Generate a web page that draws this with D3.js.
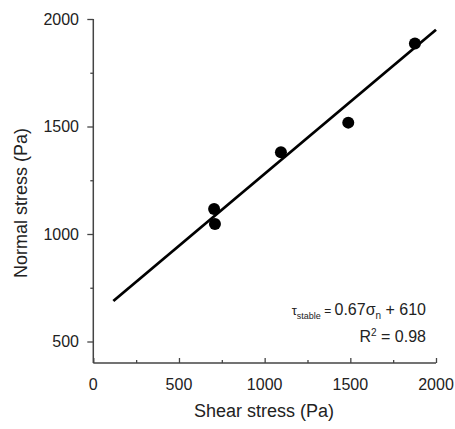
<!DOCTYPE html>
<html>
<head>
<meta charset="utf-8">
<script src="https://cdn.jsdelivr.net/npm/d3@7"></script>
<style>
  html, body { margin: 0; padding: 0; background: #fff; }
  svg { display: block; font-family: "Liberation Sans", Arial, sans-serif; }
</style>
</head>
<body>
<svg id="chart" width="455" height="429"></svg>
<script>
// Measured points: shear stress vs normal stress (Pa)
const shearStress  = [705, 710, 1095, 1488, 1877];
const normalStress = [1116, 1046, 1380, 1518, 1886];

// Linear fit: tau = 0.67 * sigma + 610
const fitSlope = 0.67;
const fitIntercept = 610;
const fitRange = [117, 2000];

const xTicks = [0, 500, 1000, 1500, 2000];
const xMinorTicks = [250, 750, 1250, 1750];
const yTicks = [500, 1000, 1500, 2000];
const yMinorTicks = [750, 1250, 1750];

const svg = d3.select("#chart");
const plotLeft = 93.3, plotRight = 436, plotTop = 19, plotBottom = 363;

const x = d3.scaleLinear().domain([0, 2000]).range([plotLeft, plotRight]);
const y = d3.scaleLinear().domain([400, 2000]).range([plotBottom, plotTop]);

const axisColor = "#444";

// X axis: ticks point inward (up)
const gx = svg.append("g").attr("transform", `translate(0,${plotBottom})`);
gx.call(d3.axisTop(x).tickValues(xTicks).tickSize(5).tickFormat(""));
gx.append("g").call(d3.axisTop(x).tickValues(xMinorTicks).tickSize(3).tickFormat(""));
gx.selectAll("path.domain").remove();
gx.selectAll("line").attr("stroke", axisColor).attr("stroke-width", 1.3);
svg.append("line")
  .attr("x1", plotLeft).attr("x2", plotRight).attr("y1", plotBottom).attr("y2", plotBottom)
  .attr("stroke", axisColor).attr("stroke-width", 1.5);
svg.append("g").selectAll("text").data(xTicks).join("text")
  .attr("x", d => x(d)).attr("y", 390)
  .attr("text-anchor", "middle").attr("font-size", 16).attr("fill", "#222")
  .text(d => d);

// Y axis: ticks point outward (left)
const gy = svg.append("g").attr("transform", `translate(${plotLeft},0)`);
gy.call(d3.axisLeft(y).tickValues(yTicks).tickSize(6).tickFormat(""));
gy.append("g").call(d3.axisLeft(y).tickValues(yMinorTicks).tickSize(3).tickFormat(""));
gy.selectAll("path.domain").remove();
gy.selectAll("line").attr("stroke", axisColor).attr("stroke-width", 1.3);
svg.append("line")
  .attr("x1", plotLeft).attr("x2", plotLeft).attr("y1", plotTop).attr("y2", plotBottom)
  .attr("stroke", axisColor).attr("stroke-width", 1.5);
svg.append("g").selectAll("text").data(yTicks).join("text")
  .attr("x", 79).attr("y", d => y(d) + 5.5)
  .attr("text-anchor", "end").attr("font-size", 16).attr("fill", "#222")
  .text(d => d);

// Axis titles
svg.append("text")
  .attr("x", 264).attr("y", 417)
  .attr("text-anchor", "middle").attr("font-size", 18).attr("fill", "#222")
  .text("Shear stress (Pa)");
svg.append("text")
  .attr("transform", "translate(27,203) rotate(-90)")
  .attr("text-anchor", "middle").attr("font-size", 18).attr("fill", "#222")
  .text("Normal stress (Pa)");

// Fitted line
const fitLine = d3.line().x(d => x(d)).y(d => y(fitSlope * d + fitIntercept));
svg.append("path")
  .datum(fitRange)
  .attr("d", fitLine)
  .attr("fill", "none").attr("stroke", "#000").attr("stroke-width", 2.8);

// Data points
svg.append("g").selectAll("circle")
  .data(shearStress.map((s, i) => [s, normalStress[i]]))
  .join("circle")
  .attr("cx", d => x(d[0])).attr("cy", d => y(d[1]))
  .attr("r", 6).attr("fill", "#000");

// Fit equation
const eq = svg.append("text")
  .attr("x", 426).attr("y", 315)
  .attr("text-anchor", "end").attr("font-size", 16).attr("fill", "#222");
eq.append("tspan").attr("font-size", 13).text("τ");
eq.append("tspan").attr("font-size", 9).attr("dy", 4).text("stable");
eq.append("tspan").attr("font-size", 12).attr("dy", -4).text(" = ");
eq.append("tspan").text("0.67σ");
eq.append("tspan").attr("font-size", 10).attr("dy", 4).text("n");
eq.append("tspan").attr("dy", -4).text(" + 610");

const r2 = svg.append("text")
  .attr("x", 426).attr("y", 342)
  .attr("text-anchor", "end").attr("font-size", 16).attr("fill", "#222");
r2.append("tspan").text("R");
r2.append("tspan").attr("font-size", 10).attr("dy", -6).text("2");
r2.append("tspan").attr("dy", 6).text(" = 0.98");
</script>
</body>
</html>
